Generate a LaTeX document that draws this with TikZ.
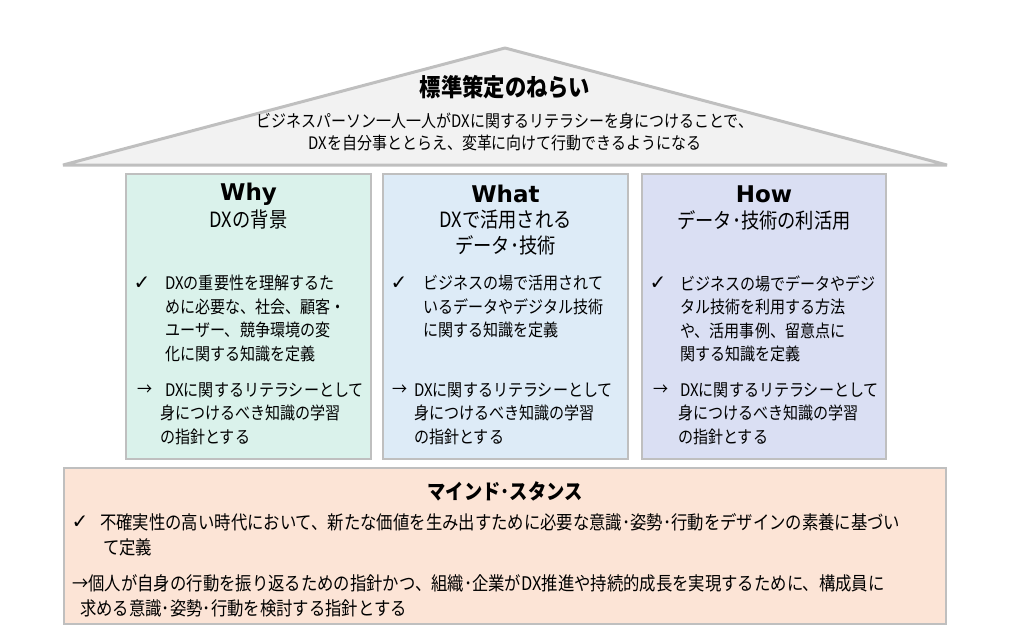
\documentclass[tikz,border=0pt]{standalone}
\usepackage{fontspec}
\setmainfont{Noto Sans CJK JP}[FakeStretch=0.87]
\newfontfamily\lat{DejaVu Sans}
\newfontfamily\sym{DejaVu Sans}
\definecolor{bordergray}{HTML}{BFBFBF}
\definecolor{roofgray}{HTML}{F2F2F2}
\definecolor{whyfill}{HTML}{DAF2EB}
\definecolor{whatfill}{HTML}{DDEBF7}
\definecolor{howfill}{HTML}{DADFF3}
\definecolor{mindfill}{HTML}{FCE4D6}
\begin{document}
\begin{tikzpicture}[x=1pt,y=-1pt,
  roof/.style={draw=bordergray, fill=roofgray, line width=3pt, line join=bevel},
  colbox/.style={draw=bordergray, line width=2.5pt, inner sep=0pt, minimum width=245pt, minimum height=285pt},
  mindbox/.style={draw=bordergray, fill=mindfill, line width=2.5pt, inner sep=0pt, minimum width=882pt, minimum height=156pt},
  coltitle/.style={inner sep=0pt, font=\lat\bfseries\fontsize{23}{26}\selectfont},
  colsub/.style={inner sep=0pt, align=center, font=\fontsize{21}{26}\selectfont},
  body/.style={inner sep=0pt, align=left, anchor=north west, font=\fontsize{17.3}{23.5}\selectfont},
  mindbody/.style={inner sep=0pt, align=left, anchor=north west, font=\fontsize{18.8}{25}\selectfont},
  chk/.style={inner sep=0pt, font=\sym\fontsize{20}{20}\selectfont},
  arr/.style={inner sep=0pt, font=\fontsize{17.3}{20}\selectfont}
]
\useasboundingbox (0,0) rectangle (1020,640);

% roof
\coordinate (tl) at (63,165);
\coordinate (ta) at (505,48);
\coordinate (tr) at (947,165);
\draw[roof] (tl) -- (ta) -- (tr) -- cycle;
\node[inner sep=0pt, font=\bfseries\fontsize{24.5}{26}\selectfont] (rooftitle) at (505,87) {標準策定のねらい};
\node[inner sep=0pt, align=center, font=\fontsize{17.2}{22}\selectfont] (rooftext) at (505,132)
  {ビジネスパーソン一人一人がDXに関するリテラシーを身につけることで、\\DXを自分事ととらえ、変革に向けて行動できるようになる};

% columns
\node[colbox, fill=whyfill] (why) at (248.5,316.5) {};
\node[colbox, fill=whatfill] (what) at (505.5,316.5) {};
\node[colbox, fill=howfill, minimum width=244pt] (how) at (764,316.5) {};

% Why
\node[coltitle] (whyt) at (248.5,194) {Why};
\node[colsub] (whys) at (248.5,220) {DXの背景};
\node[chk] (whyc) at (142,283) {✓};
\node[body] (whyb) at (165,275.2) {DXの重要性を理解するた\\めに必要な、社会、顧客・\\ユーザー、競争環境の変\\化に関する知識を定義};
\node[arr] (whya) at (145,390) {→};
\node[body] (whyr) at (160,382.2) {\hspace*{5pt}DXに関するリテラシーとして\\身につけるべき知識の学習\\の指針とする};

% What
\node[coltitle] (whatt) at (505.5,194) {What};
\node[colsub] (whats) at (505.5,233) {DXで活用される\\データ･技術};
\node[chk] (whatc) at (399,283) {✓};
\node[body] (whatb) at (423,275.2) {ビジネスの場で活用されて\\いるデータやデジタル技術\\に関する知識を定義};
\node[arr] (whata) at (400,390) {→};
\node[body] (whatr) at (414,382.2) {DXに関するリテラシーとして\\身につけるべき知識の学習\\の指針とする};

% How
\node[coltitle] (howt) at (764,194) {How};
\node[colsub] (hows) at (764,220) {データ･技術の利活用};
\node[chk] (howc) at (658,283) {✓};
\node[body] (howb) at (680,275.2) {ビジネスの場でデータやデジ\\タル技術を利用する方法\\や、活用事例、留意点に\\関する知識を定義};
\node[arr] (howa) at (661,390) {→};
\node[body] (howr) at (678,382.2) {\hspace*{2pt}DXに関するリテラシーとして\\身につけるべき知識の学習\\の指針とする};

% Mind
\node[mindbox] (mind) at (505,546) {};
\node[inner sep=0pt, font=\bfseries\fontsize{21}{24}\selectfont] (mindt) at (505,491) {マインド･スタンス};
\node[chk] (mindc) at (80,522) {✓};
\node[mindbody] (mindb) at (100,513.5) {不確実性の高い時代において、新たな価値を生み出すために必要な意識･姿勢･行動をデザインの素養に基づい\\\hspace*{3pt}て定義};
\node[mindbody] (mindr) at (72,574.5) {→個人が自身の行動を振り返るための指針かつ、組織･企業がDX推進や持続的成長を実現するために、構成員に\\\hspace*{8pt}求める意識･姿勢･行動を検討する指針とする};
\end{tikzpicture}
\end{document}
